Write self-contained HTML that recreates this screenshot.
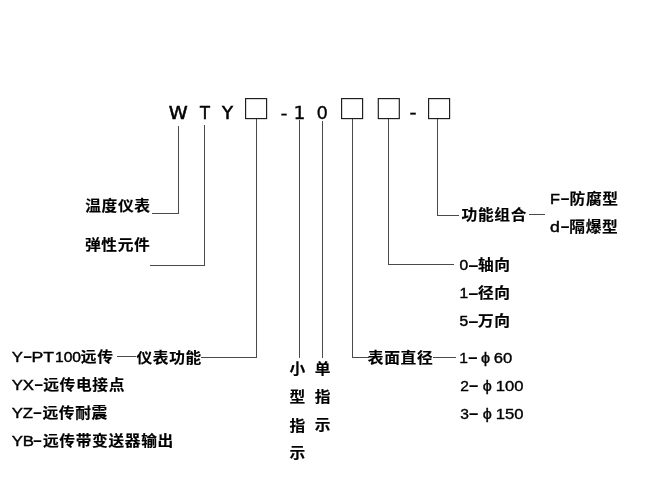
<!DOCTYPE html>
<html lang="zh-CN">
<head>
<meta charset="utf-8">
<title>WTY 型号说明</title>
<style>
html,body{margin:0;padding:0;background:#fff;}
body{width:650px;height:500px;overflow:hidden;position:relative;}
svg{position:absolute;left:0;top:0;display:block;will-change:transform;}
text{fill:#000;stroke:#000;}
.code{font-family:"DejaVu Sans","Liberation Sans",sans-serif;font-size:18px;}
.zh{font-family:"Liberation Sans","Noto Sans CJK SC",sans-serif;font-size:14.3px;font-weight:700;stroke-width:0.15px;letter-spacing:0.6px;}
.la{font-family:"Liberation Sans","Noto Sans CJK SC",sans-serif;font-size:15px;font-weight:400;stroke-width:0.42px;}
.dg{font-family:"Liberation Sans","Noto Sans CJK SC",sans-serif;font-size:15px;font-weight:400;stroke-width:0.45px;}
.dp{font-family:"Liberation Sans","Noto Sans CJK SC",sans-serif;font-size:15px;font-weight:400;stroke-width:0.36px;}
.da{font-family:"Liberation Sans","Noto Sans CJK SC",sans-serif;font-size:15.8px;font-weight:700;stroke-width:0.1px;}
.ln{stroke:#4a4a4a;stroke-width:1;fill:none;shape-rendering:crispEdges;}
.bx{stroke:#1a1a1a;stroke-width:1.15;fill:#fff;}
</style>
</head>
<body>
<svg width="650" height="500" viewBox="0 0 650 500">
<rect x="0" y="0" width="650" height="500" fill="#fff"/>
<g class="ln">
<path d="M178.5 126V213.5H152"/>
<path d="M204.5 125V265.5H150"/>
<path d="M256.5 119V357.5H201"/>
<path d="M299.5 120V358"/>
<path d="M322.5 121V358"/>
<path d="M352.5 119V357.5H369"/>
<path d="M388.5 119V264.5H454"/>
<path d="M437.5 119V215.5H459"/>
<path d="M117 356.5H136"/>
<path d="M433 357.5H456"/>
<path d="M529 214.5H545"/>
</g>
<g class="bx">
<rect x="245.6" y="98.6" width="21" height="20"/>
<rect x="341.6" y="98.6" width="21" height="20"/>
<rect x="378.3" y="98.6" width="21" height="20"/>
<rect x="428.6" y="98.6" width="21" height="20"/>
</g>
<g>
<text stroke-width="0.55" class="code" transform="translate(168.7 119) scale(1.067 1)">W</text>
<text stroke-width="0.55" class="code" transform="translate(199.95 119) scale(0.9 1)">T</text>
<text stroke-width="0.55" class="code" transform="translate(222 119) scale(1.0 1)">Y</text>
<text stroke-width="0.2" class="code" transform="translate(280.6 118.5) scale(1.09 1)">-</text>
<text stroke-width="0.3" class="code" transform="translate(293.5 118.6) scale(1.04 1)">1</text>
<text stroke-width="0.3" class="code" transform="translate(316.4 118.7) scale(1.0 1)">0</text>
<text stroke-width="0.45" class="code" transform="translate(409.5 118.4) scale(1.09 1)">-</text>
</g>
<g>
<text class="zh" transform="translate(85.2 210.9) scale(1.1 1)">温度仪表</text>
<text class="zh" transform="translate(85.0 249.7) scale(1.1 1)">弹性元件</text>
<text class="zh" transform="translate(136.4 362.5) scale(1.1 1)">仪表功能</text>
<text class="zh" transform="translate(367.8 362.7) scale(1.1 1)">表面直径</text>
<text class="zh" transform="translate(461.6 220.1) scale(1.1 1)">功能组合</text>
<text class="zh" transform="translate(289.6 373.9) scale(1.1 1)">小</text>
<text class="zh" transform="translate(289.6 402.2) scale(1.1 1)">型</text>
<text class="zh" transform="translate(289.6 430.5) scale(1.1 1)">指</text>
<text class="zh" transform="translate(289.6 458.3) scale(1.1 1)">示</text>
<text class="zh" transform="translate(314.8 374.0) scale(1.1 1)">单</text>
<text class="zh" transform="translate(314.8 402.2) scale(1.1 1)">指</text>
<text class="zh" transform="translate(314.8 430.2) scale(1.1 1)">示</text>
</g>
<g>
<text class="la" transform="translate(11.7 361.5) scale(1.1165 1.02)">Y</text>
<text class="da" transform="translate(23.4 362.0) scale(0.96 1)">–</text>
<text class="la" transform="translate(31.5 361.5) scale(1.1797 1.02)">PT</text>
<text class="dg" transform="translate(55.0 361.5) scale(1.04 1.02)">100</text>
<text class="zh" transform="translate(80.8 361.7) scale(1.1 1)">远传</text>
<text class="la" transform="translate(11.7 389.5) scale(1.1165 1.02)">YX</text>
<text class="da" transform="translate(34.5 390.0) scale(0.96 1)">–</text>
<text class="zh" transform="translate(43.2 389.7) scale(1.1 1)">远传电接点</text>
<text class="la" transform="translate(11.7 417.5) scale(1.1165 1.02)">YZ</text>
<text class="da" transform="translate(33.3 418.0) scale(0.96 1)">–</text>
<text class="zh" transform="translate(42.5 417.7) scale(1.1 1)">远传耐震</text>
<text class="la" transform="translate(11.7 445.5) scale(1.1165 1.02)">YB</text>
<text class="da" transform="translate(33.3 446.0) scale(0.96 1)">–</text>
<text class="zh" transform="translate(42.9 445.7) scale(1.1 1)">远传带变送器输出</text>
<text class="la" transform="translate(549.9 203.5) scale(1.0849 1.02)">F</text>
<text class="da" transform="translate(560.8 204.0) scale(0.98 1)">–</text>
<text class="zh" transform="translate(569.6 204.3) scale(1.1 1)">防腐型</text>
<text class="la" transform="translate(550 231.9) scale(1.1797 1.02)">d</text>
<text class="da" transform="translate(560.8 232.4) scale(0.98 1)">–</text>
<text class="zh" transform="translate(569.3 232.1) scale(1.1 1)">隔爆型</text>
<text class="dg" transform="translate(459.4 270.0) scale(1.04 1.02)">0</text>
<text class="da" transform="translate(468.4 270.5) scale(1.11 1)">–</text>
<text class="zh" transform="translate(477.9 270.2) scale(1.1 1)">轴向</text>
<text class="dg" transform="translate(459.4 298.0) scale(1.04 1.02)">1</text>
<text class="da" transform="translate(468.4 298.5) scale(1.11 1)">–</text>
<text class="zh" transform="translate(477.9 298.2) scale(1.1 1)">径向</text>
<text class="dg" transform="translate(459.4 326.0) scale(1.04 1.02)">5</text>
<text class="da" transform="translate(468.4 326.5) scale(1.11 1)">–</text>
<text class="zh" transform="translate(477.9 326.2) scale(1.1 1)">万向</text>
<text class="dp" transform="translate(459.3 362.6) scale(1.04 1)">1</text>
<text class="da" transform="translate(468.2 363.0) scale(1.05 1)">–</text>
<text class="dp" transform="translate(481.0 362.6) scale(1.08 0.95)">ϕ</text>
<text class="dp" transform="translate(493.7 362.6) scale(1.11 1)">60</text>
<text class="dp" transform="translate(460.3 390.6) scale(1.04 1)">2</text>
<text class="da" transform="translate(469.1 391.0) scale(1.05 1)">–</text>
<text class="dp" transform="translate(482.8 390.6) scale(1.08 0.95)">ϕ</text>
<text class="dp" transform="translate(495.8 390.6) scale(1.11 1)">100</text>
<text class="dp" transform="translate(460.3 418.9) scale(1.04 1)">3</text>
<text class="da" transform="translate(469.1 419.3) scale(1.05 1)">–</text>
<text class="dp" transform="translate(482.8 418.9) scale(1.08 0.95)">ϕ</text>
<text class="dp" transform="translate(495.8 418.9) scale(1.11 1)">150</text>
</g>
</svg>
</body>
</html>
